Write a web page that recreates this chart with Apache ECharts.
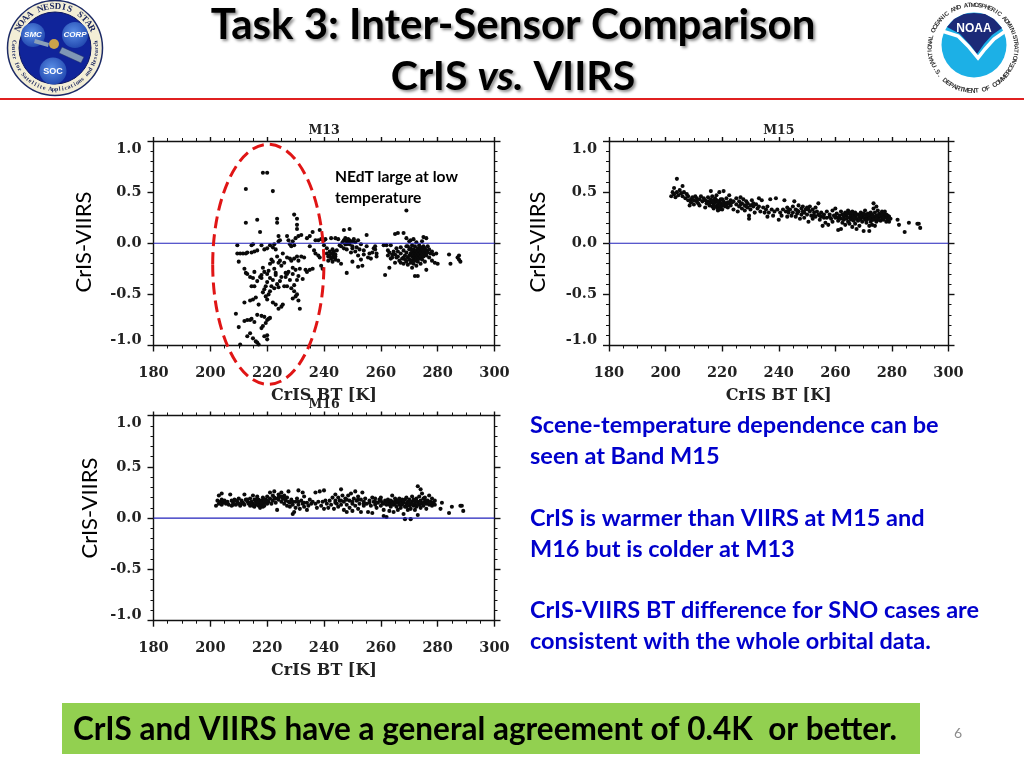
<!DOCTYPE html>
<html>
<head>
<meta charset="utf-8">
<title>CrIS vs. VIIRS</title>
<script src="https://cdn.jsdelivr.net/npm/echarts@6/dist/echarts.min.js"></script>
<style>
html,body{margin:0;padding:0;background:#fff;}
#chart{width:1024px;height:768px;}
</style>
</head>
<body>
<div id="chart"></div>
<script>
// values, [CrIS BT, CrIS-VIIRS]
const m13Cold = [
[218.5,.69],[220,.69],[222,.51],[212.5,.53],[212.5,.2],[216.5,.23],[217.5,.11],[223.5,.24],[223.5,.2],[229.5,.28],[230.5,.24],[230.5,.18],[230.5,.14],[236,.11],[238.5,.13],
[209.5,-.02],[214.5,-.02],[215,-.01],[218,-.02],[221,-.02],[222,-.04],[222.5,-.01],[223,-.06],[224,.07],[224.5,.03],[224,.02],[227,.07],[228,-.01],[229,.02],[229.5,-.02],[230,.05],[231,.07],[232,.08],[234,.05],[235,.07],[227.5,.03],[228.5,-.03],[235,-.03],[237,.03],[238,.03],[239,.04],[240,.03],[240,-.02],
[209.5,-.1],[210.5,-.1],[211.5,-.1],[212.5,-.1],[213,-.09],[214.5,-.09],[215.5,-.08],[216.5,-.07],[219,-.06],[220,-.05],[210,-.18],[212,-.25],[212.5,-.29],[213,-.3],[214,-.33],[215,-.34],[215.5,-.28],[214.5,-.42],[215.5,-.42],[216.5,-.37],[217.5,-.33],[218,-.31],[218.5,-.24],[219,-.28],[220,-.3],[220.5,-.27],[221,-.2],[221.5,-.16],[222,-.18],[222.5,-.25],[223,-.29],[223.5,-.13],[224,-.19],[224.5,-.17],[225,-.22],[225.5,-.1],[226,-.19],[226.5,-.29],[227,-.14],[227.5,-.28],[228,-.15],[228.5,-.17],[229,-.24],[229,-.3],[229.5,-.15],[230,-.26],[230.5,-.13],[231,-.17],[231,-.32],[231.5,-.25],[232,-.13],[232.5,-.35],[233,-.14],[233.5,-.26],[234,-.28],[235,-.26],[236,-.25],[236.5,-.07],[237,-.1],[238,-.12],[238.5,-.14],[239,-.22],[239.5,-.25],
[218,-.34],[218.5,-.48],[219,-.45],[219.5,-.42],[219.5,-.52],[220,-.38],[220,-.55],[220.5,-.5],[221,-.34],[221,-.47],[221.5,-.42],[222,-.36],[222,-.58],[222.5,-.44],[223,-.31],[223,-.6],[223.5,-.4],[224,-.43],[224,-.64],[224.5,-.37],[225,-.62],[225,-.33],[225.5,-.6],[226,-.42],[226.5,-.33],[227,-.3],[227,-.42],[228,-.36],[228.5,-.44],[229,-.54],[229.5,-.47],[229.5,-.41],[230,-.52],[230.5,-.36],[230.5,-.5],[231,-.56],[231.5,-.64],[212,-.58],[216,-.53],[215,-.55],[214,-.56],[217,-.6],[216.5,-.7],
[209,-.69],[210,-.82],[212,-.76],[213,-.75],[214,-.75],[214.5,-.74],[215.5,-.77],[218,-.71],[219,-.72],[220,-.75],[220.5,-.74],[221,-.73],[219.5,-.78],[218.5,-.81],[218,-.83],[214,-.88],[213,-.91],[215,-.93],[216,-.96],[216.5,-.97],[217,-.99],[219,-.91],[220,-.9],[220,-.94],[210.5,-.99]
];
const m13Warm = [
[240.5,.04],[241,-.05],[241,-.1],[241.5,-.13],[241.5,-.17],[242,-.08],[242,-.12],[242.5,-.15],[242.5,.05],[243,-.1],[243,-.14],[243,-.18],[243.5,-.08],[243.5,-.12],[244,-.16],[244,-.11],[244,.05],[244.5,-.07],[245,.04],[245.5,-.02],[246,-.2],[246,-.03],[246.5,.01],[247,.03],[247,-.05],[247,.13],[247.5,-.01],[248,-.29],[248,.02],[248,-.06],[248.5,.04],[249,.14],[249,-.01],[249,.03],[249.5,-.09],[250,.02],[250,-.18],[250,-.03],[250.5,.04],[251,-.08],[251,.01],[251.5,-.04],[252,-.23],[252,-.12],[252,.03],[252.5,-.06],[253,-.01],[253,-.16],[253.5,-.22],[254,-.11],[254,-.07],[255,.08],[255,-.03],[255.5,-.14],[256,-.1],[256.5,-.15],[257,-.09],[257.5,-.05],[258,-.06],[258.5,-.1],[258.5,-.13],[258,-.03],
[261,-.02],[261.5,-.31],[262,-.02],[262.5,-.07],[263,-.24],[263.5,-.02],[264,-.11],[264,-.14],[264.5,-.08],[265,-.19],[265,.09],[265.5,-.05],[266,.1],[266,-.13],[266.5,-.17],[267,-.1],[267,-.04],[267.5,-.15],[268,.1],[268,-.07],[268.5,-.12],[269,.32],[269,-.18],[269,.05],[269,-.09],[269.5,-.14],[269.5,-.03],[269.5,-.21],[270,-.06],[270,-.12],[270,-.16],[270,.02],[270.5,-.1],[270.5,-.19],[270.5,-.05],[270.5,.03],[271,-.13],[271,-.08],[271,-.02],[271,-.17],[271,-.24],[271.5,-.11],[271.5,-.06],[271.5,.04],[271.5,-.15],[271.5,-.2],[272,-.09],[272,-.03],[272,-.13],[272,-.17],[272,-.32],[272.5,-.07],[272.5,-.11],[272.5,.01],[272.5,-.15],[272.5,-.22],[273,-.05],[273,-.09],[273,-.13],[273,-.18],[273,-.32],[273.5,-.02],[273.5,-.07],[273.5,-.11],[273.5,-.15],[274,-.04],[274,-.09],[274,-.13],[274,-.2],[274.5,.02],[274.5,-.06],[274.5,-.11],[274.5,-.16],[275,.06],[275,-.03],[275,-.08],[275,-.13],[275.5,-.05],[275.5,-.1],[275.5,-.18],[276,.05],[276,-.07],[276,-.12],[276,-.26],[276.5,-.03],[276.5,-.09],[277,-.06],[277,-.14],[277.5,-.1],[278,-.08],[278,-.17],[278.5,-.11],[279,-.19],[279.5,-.1],[280,-.2],[284,-.11],[284.5,-.2],[287,-.14],[287.5,-.12],[288,-.18],[287.5,-.16],
[262.5,-.12],[263,-.09],[263.5,-.15],[265,-.11],[265.5,-.14],[266,-.08],[267,-.19],[268,-.14],[268,-.2],[269,-.03],[268.5,-.16],[244,-.13],[242.5,-.1],[243,-.06],[245,-.17],[250,-.05],[248,-.01],[249,.01],[247.5,.05]
];
const m15Points = [
[202,.46],[202.5,.5],[203,.48],[203,.54],[203.5,.45],[204,.5],[204,.63],[204.5,.47],[205,.52],[205.5,.49],[206,.46],[206,.56],[206.5,.5],[207,.44],[207.5,.48],[208,.42],[208,.46],[208.5,.37],[209,.43],[209,.4],[209.5,.45],[210,.38],[210,.42],[210.5,.46],[211,.41],[211,.44],[211.5,.39],[212,.43],[212,.37],[212.5,.46],[213,.41],[213.5,.44],[214,.35],[214,.42],[214.5,.39],[215,.45],[215,.41],[215.5,.37],[216,.51],[216,.43],[216,.4],[216.5,.36],[216.5,.46],[217,.42],[217,.38],[217,.34],[217.5,.44],[217.5,.4],[218,.36],[218,.42],[218,.47],[218.5,.34],[218.5,.38],[218.5,.32],[219,.41],[219,.36],[219,.5],[219.5,.39],[219.5,.35],[220,.43],[220,.37],[220,.33],[220.5,.41],[220.5,.51],[221,.39],[221,.36],[221.5,.44],[222,.4],[222,.35],[222.5,.47],[223,.42],[223,.37],[224,.33],[224,.41],[225,.44],[225,.38],[225.5,.31],[226,.36],[226,.41],[226.5,.45],[227,.39],[227,.34],[227.5,.43],[228,.37],[228,.32],[228.5,.41],[229,.35],[229,.39],[229.5,.27],[229.5,.24],[230,.37],[230,.33],[230.5,.42],[231,.36],[231.5,.3],[232,.38],[232.5,.34],[233,.44],[233,.36],[233.5,.31],[234,.42],[234.5,.35],[235,.3],[235.5,.33],[236,.26],[236,.36],[236.5,.3],[237,.43],[237.5,.33],[238,.27],[238.5,.31],[239,.44],[239.5,.33],[240,.23],[240.5,.3],[241,.27],[241.5,.33],[242,.42],[242.5,.31],[243,.26],[243,.35],[243.5,.3],[244,.33],[244.5,.27],[245,.36],[245,.3],[245.5,.41],[246,.33],[246,.26],[246.5,.29],[247,.37],[247,.31],[247.5,.24],[248,.34],[248,.28],[248.5,.36],[249,.3],[249,.25],[249.5,.33],[250,.35],[250,.28],[250.5,.21],[251,.31],[251,.36],[251.5,.27],[252,.33],[252,.24],[252.5,.3],[253,.35],[253,.26],[253.5,.31],[254,.39],[254,.28],[254.5,.23],[255,.3],[255,.26],[255.5,.17],[256,.28],[256.5,.2],[257,.31],[257,.25],[257.5,.18],[258,.28],[258.5,.24],[259,.32],[259,.21],[259.5,.27],[260,.34],[260,.25],[260.5,.29],[261,.22],[261,.13],[261.5,.27],[262,.31],[262,.24],[262,.14],[262.5,.28],[262.5,.2],[263,.26],[263,.23],[263.5,.3],[263.5,.18],[264,.27],[264,.24],[264.5,.21],[264.5,.32],[265,.29],[265,.25],[265,.19],[265.5,.27],[265.5,.23],[266,.31],[266,.25],[266,.16],[266.5,.28],[266.5,.22],[267,.3],[267,.26],[267,.19],[267.5,.24],[267.5,.14],[268,.28],[268,.22],[268.5,.26],[268.5,.17],[269,.3],[269,.24],[269.5,.27],[269.5,.21],[270,.25],[270,.12],[270.5,.32],[270.5,.28],[270.5,.23],[271,.26],[271,.2],[271.5,.29],[271.5,.24],[272,.27],[272,.12],[272,.17],[272.5,.3],[272.5,.25],[272.5,.21],[273,.28],[273,.23],[273,.18],[273.5,.39],[273.5,.34],[273.5,.26],[274,.3],[274,.24],[274,.17],[274.5,.36],[274.5,.27],[274.5,.21],[275,.32],[275,.25],[275,.23],[275.5,.29],[275.5,.26],[276,.27],[276,.22],[276.5,.31],[276.5,.25],[277,.28],[277,.23],[277.5,.31],[277.5,.26],[278,.25],[278,.21],[278.5,.27],[278.5,.23],[279,.26],[279,.21],[279.5,.24],[282,.23],[282.5,.18],[284.5,.11],[286,.2],[289,.19],[289.5,.19],[290,.15],
[215.5,.39],[216.5,.41],[217.5,.36],[218.5,.41],[219.5,.43],[219,.33],[220.5,.38],[221.5,.37],[222.5,.39],[223.5,.4],[226.5,.38],[228.5,.36],[231,.39],[243.5,.33],[246.5,.32],[248.5,.31],[250.5,.33],[252.5,.27],[254.5,.27],[256,.25],[258,.26],[260,.27],[261,.25],[263,.28],[264,.29],[265.5,.3],[266.5,.25],[267.5,.28],[268.5,.23],[269,.27],[270,.29],[271,.23],[272,.24],[273.5,.23],[274.5,.24],[275.5,.23],[276.5,.28],[277,.25],[278,.28],[279,.24]
];
const m16Points = [
[202,.12],[202.5,.17],[203,.14],[203,.22],[203.5,.16],[204,.24],[204,.13],[204.5,.15],[205,.17],[205.5,.14],[206,.16],[206.5,.13],[207,.23],[207.5,.17],[207.5,.12],[208,.15],[208.5,.18],[209,.13],[209.5,.16],[210,.19],[210,.14],[210.5,.12],[211,.17],[211.5,.15],[212,.23],[212,.13],[212.5,.18],[213,.16],[213.5,.14],[214,.19],[214,.12],[214.5,.16],[215,.22],[215,.14],[215.5,.18],[215.5,.11],[216,.16],[216,.13],[216.5,.21],[216.5,.15],[217,.12],[217,.18],[217.5,.14],[217.5,.1],[218,.17],[218,.13],[218.5,.2],[218.5,.11],[219,.15],[219,.12],[219.5,.18],[220,.14],[220,.21],[220.5,.16],[221,.25],[221,.19],[221.5,.14],[222,.22],[222,.17],[222.5,.26],[223,.19],[223,.15],[223.5,.08],[224,.23],[224,.18],[224.5,.21],[225,.16],[225,.25],[225.5,.19],[226,.14],[226,.22],[226.5,.17],[227,.2],[227,.12],[227.5,.26],[228,.15],[228,.11],[228.5,.18],[229,.04],[229,.13],[229.5,.06],[230,.16],[230,.1],[230.5,.19],[231,.27],[231,.13],[231.5,.09],[232,.17],[232.5,.25],[232.5,.14],[233,.21],[233,.11],[234,.15],[234,.08],[234.5,.12],[235,.18],[235.5,.14],[236,.16],[237,.25],[237,.14],[237.5,.1],[238,.16],[238.5,.26],[239,.12],[239.5,.16],[240,.27],[240,.09],[240.5,.17],[241,.14],[241.5,.1],[242,.17],[242.5,.13],[243,.2],[243.5,.09],[244,.17],[244,.23],[244.5,.14],[245,.2],[245,.11],[245.5,.17],[246,.28],[246,.13],[246.5,.22],[247,.16],[247,.08],[247.5,.19],[248,.13],[248,.06],[248.5,.22],[249,.17],[249,.1],[249.5,.24],[250,.14],[250,.07],[250.5,.19],[251,.26],[251,.12],[251.5,.17],[252,.09],[252,.21],[252.5,.14],[253,.06],[253,.18],[253.5,.25],[254,.12],[254,.16],[254.5,.19],[255,.14],[255.5,.06],[256,.17],[256.5,.12],[257,.2],[257,.05],[257.5,.16],[258,.13],[258,.19],[258.5,.1],[259,.15],[259.5,.18],[260,.12],[260,.2],[260.5,.15],[261,.08],[261,.02],[261.5,.17],[262,.13],[262,.01],[262.5,.18],[263,.15],[263,.07],[263.5,.11],[264,.22],[264,.16],[264.5,.13],[264.5,.06],[265,.19],[265,.14],[265.5,.11],[265.5,.17],[266,.15],[266,.08],[266.5,.19],[266.5,.13],[267,.16],[267,.1],[267.5,.18],[267.5,.13],[268,.15],[268,.04],[268.5,-.01],[268.5,.18],[268.5,.11],[269,.14],[269,.2],[269.5,.08],[269.5,.16],[270,.12],[270,.18],[270.5,-.01],[270.5,.14],[270.5,.09],[271,.16],[271,.21],[271.5,.12],[271.5,.18],[272,.14],[272,.08],[272.5,.19],[272.5,.11],[273,.31],[273,.16],[273,.03],[273.5,.13],[273.5,.21],[274,.28],[274,.17],[274,.1],[274.5,.14],[274.5,.24],[275,.19],[275,.12],[275.5,.16],[275.5,.2],[276,.14],[276,.09],[276.5,.17],[277,.13],[277,.22],[277.5,.16],[278,.19],[278,.12],[278.5,.15],[279,.13],[279,.17],[281,.09],[281.5,.15],[284,.05],[285,.11],[288,.12],[288.5,.12],[289,.07],
[204,.18],[206,.15],[208,.13],[209,.17],[211,.14],[213,.18],[214,.15],[215,.12],[216,.18],[217,.16],[218,.15],[219,.18],[220,.17],[222.5,.2],[224,.2],[225,.21],[226,.19],[227.5,.16],[229,.16],[231,.16],[233,.15],[244,.15],[246,.17],[248,.18],[250,.16],[252,.18],[254,.14],[256,.15],[258,.16],[260,.17],[261,.14],[262,.16],[263,.13],[263.5,.17],[264,.14],[265,.16],[266,.17],[267,.14],[268,.17],[269,.11],[270,.15],[271,.13],[272,.17],[273,.13],[274,.14],[275,.15],[276,.17],[277,.15],[278,.15]
];
const zeroLine = [[180,0],[300,0]];
const panelNames = ['M13','M15','M16'];
const xAxisName = 'CrIS BT [K]';
const yAxisName = 'CrIS-VIIRS';
const textLines = [
  'Scene-temperature dependence can be',
  'seen at Band M15',
  'CrIS is warmer than VIIRS at M15 and',
  'M16 but is colder at M13',
  'CrIS-VIIRS BT difference for SNO cases are',
  'consistent with the whole orbital data.'
];

const SERIF = '"DejaVu Serif"';
const SANS = 'Lato';
const grids = [
  {left:153.5, top:141, width:341, height:204.5},
  {left:609, top:141, width:339.5, height:204.5},
  {left:153.5, top:415.5, width:341, height:205.2}
];

const tickLine = {color:'#111', width:1.4};
function xAxes(i) {
  const base = {gridIndex:i, type:'value', min:180, max:300, interval:20, splitLine:{show:false},
    axisLine:{onZero:false, lineStyle:tickLine}, axisTick:{length:6, lineStyle:tickLine},
    minorTick:{show:true, splitNumber:4, length:3, lineStyle:{color:'#111', width:1}}};
  return [
    Object.assign({}, base, {position:'bottom', name:xAxisName, nameLocation:'middle', nameGap:42,
      nameTextStyle:{fontFamily:SERIF, fontWeight:'bold', fontSize:16, color:'#222'},
      axisLabel:{margin:20, fontFamily:SERIF, fontWeight:'bold', fontSize:14.5, color:'#222', hideOverlap:false, showMinLabel:true, showMaxLabel:true}}),
    Object.assign({}, base, {position:'top', name:panelNames[i], nameLocation:'middle', nameGap:4,
      nameTextStyle:{fontFamily:SERIF, fontWeight:'bold', fontSize:12.5, color:'#222'},
      axisLabel:{show:false}, axisTick:{length:4, lineStyle:tickLine}})
  ];
}
function yAxes(i) {
  const base = {gridIndex:i, type:'value', min:-1, max:1, interval:.5, splitLine:{show:false},
    axisLine:{onZero:false, lineStyle:tickLine}, axisTick:{length:6, lineStyle:tickLine},
    minorTick:{show:true, splitNumber:5, length:3, lineStyle:{color:'#111', width:1}}};
  return [
    Object.assign({}, base, {position:'left',
      axisLabel:{margin:12, fontFamily:SERIF, fontWeight:'bold', fontSize:14.5, color:'#222', lineHeight:10, padding:[3,0,0,0],
        formatter:v => v.toFixed(1), verticalAlignMaxLabel:'top', verticalAlignMinLabel:'bottom',
        showMinLabel:true, showMaxLabel:true}}),
    Object.assign({}, base, {position:'right', axisLabel:{show:false}})
  ];
}
function dots(name, data, i) {
  return {name:name, type:'scatter', xAxisIndex:i*2, yAxisIndex:i*2, data:data, symbol:'circle', symbolSize:4.1,
    itemStyle:{color:'#0a0a0a', opacity:1}, silent:true, z:2};
}
function zero(i) {
  return {type:'line', xAxisIndex:i*2, yAxisIndex:i*2, data:zeroLine, showSymbol:false, silent:true, z:3,
    lineStyle:{color:'#2222bb', width:1.2}};
}

// text set round a circle, one letter at a time
function ringTop(str, cx, cy, r, from, to, style) {
  return str.split('').map((ch, k) => {
    const a = (from + (to-from)*k/(str.length-1)) * Math.PI/180;
    return {type:'text', x:cx+r*Math.sin(a), y:cy-r*Math.cos(a), rotation:-a, z:21,
      style:Object.assign({text:ch, align:'center', verticalAlign:'middle'}, style)};
  });
}
function ringBottom(str, cx, cy, r, from, to, style) {
  return str.split('').map((ch, k) => {
    const a = (from + (to-from)*k/(str.length-1)) * Math.PI/180;
    return {type:'text', x:cx+r*Math.sin(a), y:cy+r*Math.cos(a), rotation:a, z:21,
      style:Object.assign({text:ch, align:'center', verticalAlign:'middle'}, style)};
  });
}
function label(text, x, y, font, fill, extra) {
  return Object.assign({type:'text', x:x, y:y, z:20, style:{text:text, font:font, fill:fill, align:'center', verticalAlign:'middle'}}, extra||{});
}
function bubble(cx, cy, r) {
  return {type:'circle', z:20, shape:{cx:cx, cy:cy, r:r}, style:{fill:new echarts.graphic.RadialGradient(.45,.4,.7,[{offset:0,color:'#5b8fe6'},{offset:1,color:'#1a3fa8'}])}};
}

const starLogo = [
  {type:'circle', z:18, shape:{cx:55, cy:48, r:47.5}, style:{fill:'#f3eed6', stroke:'#1c2a66', lineWidth:1.5}},
  {type:'circle', z:19, shape:{cx:55, cy:48, r:36}, style:{fill:'#10249a', stroke:'#0b1560', lineWidth:1}},
  bubble(33,35,12), bubble(75,35,13), bubble(53,71,13.5),
  {type:'polygon', z:20, shape:{points:[[35,39],[49,43],[48,47],[34,43]]}, style:{fill:'#8aa0b8'}},
  {type:'polygon', z:20, shape:{points:[[62,47],[84,57],[81,63],[59,53]]}, style:{fill:'#7f97b5', stroke:'#1c2a66', lineWidth:.5}},
  {type:'circle', z:21, shape:{cx:54,cy:44,r:5}, style:{fill:'#caa24a'}},
  label('SMC',33,35,'italic bold 8px "Liberation Sans"','#fff'),
  label('CORP',75,35,'italic bold 8px "Liberation Sans"','#fff'),
  label('SOC',53,72,'bold 9px "Liberation Sans"','#fff')
].concat(
  ringTop('NOAA NESDIS STAR',55,48,41.5,-62,62,{font:'bold 9px "Liberation Serif"',fill:'#16225c'}),
  ringBottom('Center for Satellite Applications and Research',55,48,41.5,-98,98,{font:'bold 6px "Liberation Serif"',fill:'#16225c'})
);

const noaaLogo = [
  {type:'circle', z:18, shape:{cx:973, cy:48, r:49}, style:{fill:'#fff'}},
  {type:'circle', z:19, shape:{cx:974, cy:45, r:32.5}, style:{fill:'#1cb0e6'}},
  {type:'polygon', z:20, shape:{points:[[947,27],[954,19],[964,14],[974,13],[985,14],[994,19],[1002,28],[992,35],[984,44],[977,54],[971,46],[960,34]]}, style:{fill:'#1c2a78'}},
  {type:'polyline', z:21, shape:{points:[[942,31],[958,36],[968,46],[978,58],[985,49],[994,39],[1007,30]]}, style:{fill:'none', stroke:'#fff', lineWidth:3.5}},
  label('NOAA',974,29,'bold 12px "Liberation Sans"','#fff',{z:22})
].concat(
  ringTop('NATIONAL OCEANIC AND ATMOSPHERIC ADMINISTRATION',973,48,43,-108,108,{font:'bold 6.2px "Liberation Sans"',fill:'#333'}),
  ringBottom('U.S. DEPARTMENT OF COMMERCE',973,48,43,-66,66,{font:'bold 6.5px "Liberation Sans"',fill:'#333'})
);

const titleShadow = {textShadowColor:'rgba(0,0,0,.45)', textShadowBlur:3, textShadowOffsetX:2, textShadowOffsetY:2};
const bodyFont = 'bold 23.5px ' + SANS;
const bodyRows = [425,456,518,549,610,641];

const page = [
  {type:'line', z:17, shape:{x1:0,y1:99,x2:1024,y2:99}, style:{stroke:'#e02020', lineWidth:2}},
  {type:'text', x:513, y:25, z:20, style:Object.assign({text:'Task 3: Inter-Sensor Comparison', font:'bold 42px '+SANS, fill:'#000', align:'center', verticalAlign:'middle'}, titleShadow)},
  {type:'text', x:513, y:77, z:20, style:Object.assign({text:'{b|CrIS }{i|vs.}{b| VIIRS}', align:'center', verticalAlign:'middle',
    rich:{b:{font:'bold 41px '+SANS, fill:'#000', textShadowColor:'rgba(0,0,0,.45)', textShadowBlur:3, textShadowOffsetX:2, textShadowOffsetY:2},
          i:{font:'italic bold 41px '+SANS, fill:'#000', textShadowColor:'rgba(0,0,0,.45)', textShadowBlur:3, textShadowOffsetX:2, textShadowOffsetY:2}}}, titleShadow)},
  {type:'ellipse', z:15, shape:{cx:268.3, cy:264.3, rx:55.6, ry:120}, style:{fill:'none', stroke:'#e01515', lineWidth:3, lineDash:[12,6]}},
  {type:'text', x:335, y:177, z:20, style:{text:'NEdT large at low', font:'bold 15.6px '+SANS, fill:'#000', verticalAlign:'middle'}},
  {type:'text', x:335, y:198, z:20, style:{text:'temperature', font:'bold 15.6px '+SANS, fill:'#000', verticalAlign:'middle'}},
  label(yAxisName,84,242,'22px '+SANS,'#000',{rotation:Math.PI/2}),
  label(yAxisName,538,242,'22px '+SANS,'#000',{rotation:Math.PI/2}),
  label(yAxisName,90,508,'22px '+SANS,'#000',{rotation:Math.PI/2}),
  {type:'rect', z:16, shape:{x:62,y:703,width:858,height:51}, style:{fill:'#92d050'}},
  {type:'text', x:73, y:730, z:20, style:{text:'CrIS and VIIRS have a general agreement of 0.4K  or better.', font:'bold 31.5px '+SANS, fill:'#000', verticalAlign:'middle'}},
  label('6',958,733,'14px '+SANS,'#8c8c8c')
].concat(textLines.map((t,k) => ({type:'text', x:530, y:bodyRows[k], z:20, style:{text:t, font:bodyFont, fill:'#0000cc', verticalAlign:'middle'}})));

const chart = echarts.init(document.getElementById('chart'), null, {renderer:'canvas'});
chart.setOption({
  animation:false,
  backgroundColor:'#fff',
  grid:grids,
  xAxis:[].concat(xAxes(0), xAxes(1), xAxes(2)),
  yAxis:[].concat(yAxes(0), yAxes(1), yAxes(2)),
  series:[
    dots('M13', m13Cold.concat(m13Warm), 0), zero(0),
    dots('M15', m15Points, 1), zero(1),
    dots('M16', m16Points, 2), zero(2)
  ],
  graphic:{elements:page.concat(starLogo, noaaLogo)}
});
</script>
</body>
</html>
